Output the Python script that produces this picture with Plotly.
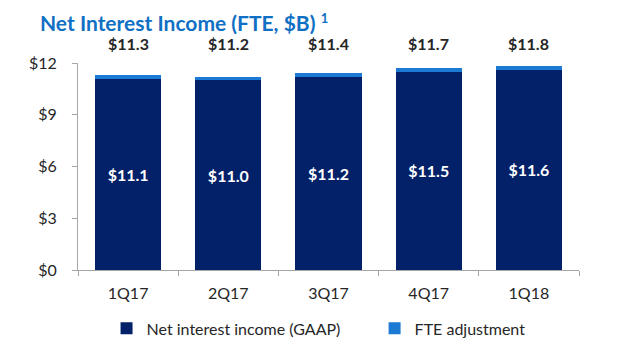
import plotly.graph_objects as go

quarters = ["1Q17", "2Q17", "3Q17", "4Q17", "1Q18"]
nii_gaap = [11.1, 11.0, 11.2, 11.5, 11.6]
fte_adj = [0.2, 0.2, 0.2, 0.2, 0.2]
totals = [11.3, 11.2, 11.4, 11.7, 11.8]
y_ticks = [0, 3, 6, 9, 12]
y_tick_labels = ["$0", "$3", "$6", "$9", "$12"]

dark = "#022169"
light = "#1a7ad4"
txt = "#262626"
font_family = "Lato, 'Open Sans', sans-serif"

fig = go.Figure()
fig.add_trace(go.Bar(
    x=quarters, y=nii_gaap, name="Net interest income (GAAP)",
    marker=dict(color=dark, line=dict(width=0)),
    text=[f"${v:.1f}" for v in nii_gaap], textposition="inside",
    insidetextanchor="middle",
    textfont=dict(color="white", size=16, family=font_family, weight="bold"),
    width=0.66, legend="legend",
))
fig.add_trace(go.Bar(
    x=quarters, y=fte_adj, name="FTE adjustment",
    marker=dict(color=light, line=dict(width=0)),
    width=0.66, textposition="none", legend="legend2",
))
for q, t in zip(quarters, totals):
    fig.add_annotation(x=q, y=max(y_ticks), text=f"<b>${t:.1f}</b>", showarrow=False,
                       yshift=20, font=dict(size=16, color=txt, family=font_family))

leg_common = dict(orientation="h", xanchor="left", y=-0.2, yanchor="top",
                  font=dict(size=16, color=txt), itemwidth=30,
                  bgcolor="rgba(0,0,0,0)")

fig.update_layout(
    barmode="stack",
    width=640, height=355,
    margin=dict(l=70, r=69, t=55, b=93, autoexpand=False),
    plot_bgcolor="white", paper_bgcolor="white",
    font=dict(family=font_family, color=txt, size=16),
    title=dict(text="<b>Net Interest Income (FTE, $B)</b> <sup><b><span style='font-size:13px'>1</span></b></sup>",
               x=0.05, xanchor="left", y=0.955, yanchor="middle",
               font=dict(size=21, color="#1070c4", family=font_family)),
    showlegend=True,
    legend=dict(x=0.057, **leg_common),
    legend2=dict(x=0.592, **leg_common),
    uniformtext=dict(mode="show", minsize=10),
)
fig.update_yaxes(range=[0, 12], tickvals=y_ticks, ticktext=y_tick_labels,
                 showgrid=False, showline=True, linecolor="#a6a6a6", linewidth=1,
                 ticks="outside", ticklen=5, tickcolor="#a6a6a6", automargin=False,
                 tickfont=dict(size=16, color=txt), ticklabelstandoff=12, zeroline=False)
fig.update_xaxes(showgrid=False, showline=True, linecolor="#a6a6a6", linewidth=1,
                 ticks="outside", ticklen=5, tickcolor="#a6a6a6", tickson="boundaries",
                 automargin=False,
                 tickfont=dict(size=16, color=txt), ticklabelstandoff=9)

fig.write_html("out.html")
